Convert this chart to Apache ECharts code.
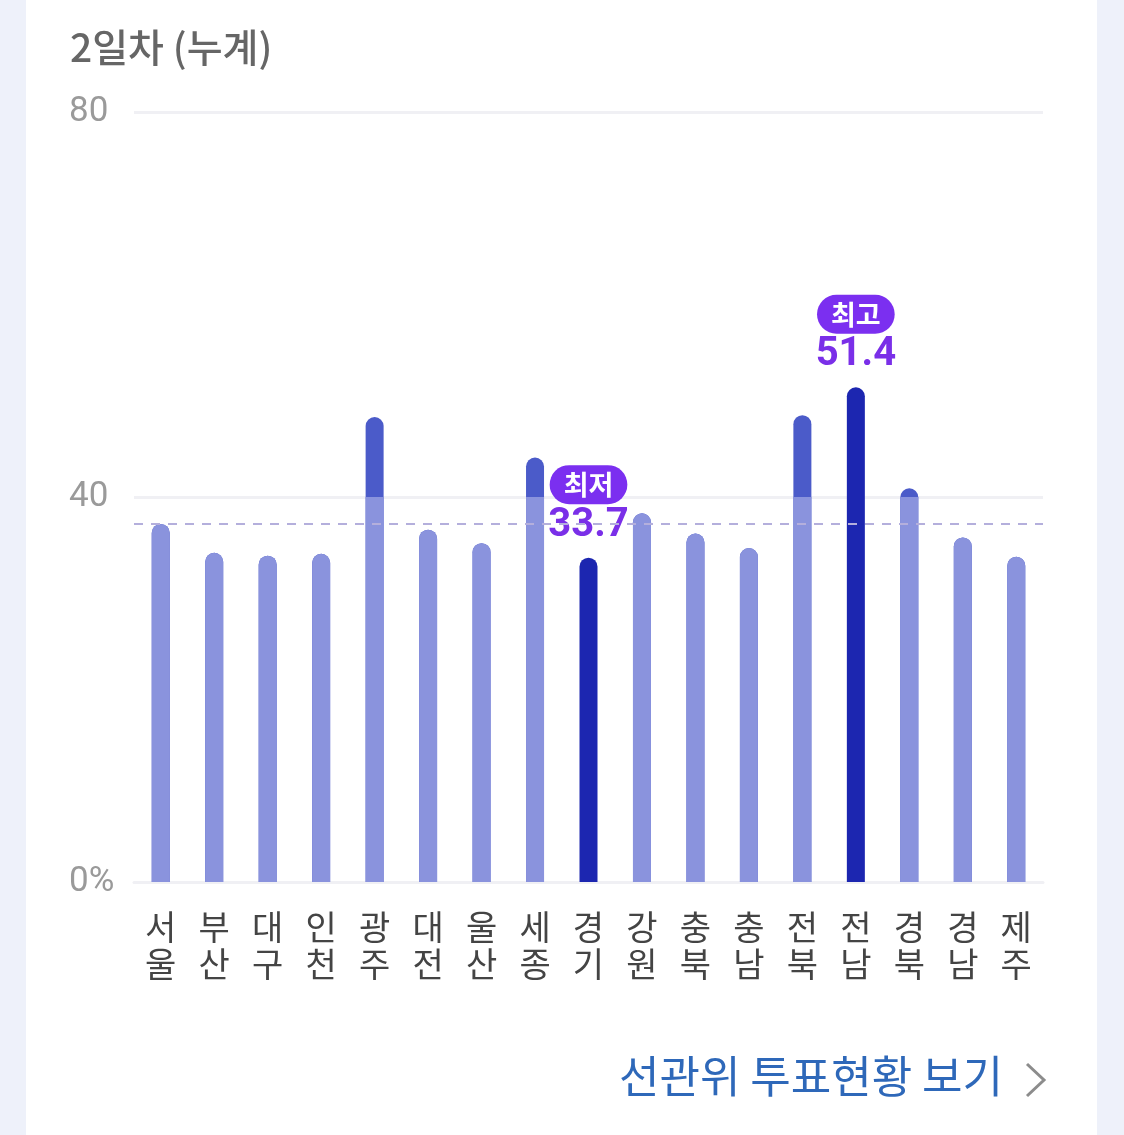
<!DOCTYPE html>
<html>
<head>
<meta charset="utf-8">
<style>
  html, body { margin: 0; padding: 0; background: #eef1fa; }
  #chart { width: 1124px; height: 1135px; }
</style>
<script src="https://cdn.jsdelivr.net/npm/echarts@6/dist/echarts.min.js"></script>
</head>
<body>
<div id="chart"></div>
<script>
const titleText = '2일차 (누계)';
const regions = ['서울','부산','대구','인천','광주','대전','울산','세종','경기','강원','충북','충남','전북','전남','경북','경남','제주'];
const turnout = [37.2, 34.2, 33.9, 34.1, 48.3, 36.6, 35.2, 44.1, 33.7, 38.3, 36.2, 34.7, 48.5, 51.4, 40.9, 35.8, 33.8];
const highlightTags = ['', '', '', '', '', '', '', '', '최저', '', '', '', '', '최고', '', '', ''];
const averageLine = 37.2;
const splitValue = 40;
const yTicks = [0, 40, 80];
const linkText = '선관위 투표현황 보기';

const FONT = 'Roboto, "Noto Sans CJK KR", sans-serif';
const KFONT = '"Noto Sans CJK KR", sans-serif';

const fullSeries = turnout.map((v, i) => highlightTags[i] ? '-' : v);
const lowerSeries = turnout.map((v, i) => {
  if (highlightTags[i]) return '-';
  const r = v > splitValue ? 0 : 9;
  return { value: Math.min(v, splitValue), itemStyle: { borderRadius: [r, r, 0, 0] } };
});
const highSeries = turnout.map((v, i) => highlightTags[i] ? v : '-');

const chart = echarts.init(document.getElementById('chart'));
chart.setOption({
  animation: false,
  title: {
    text: titleText,
    left: 65, top: 23,
    textStyle: { fontFamily: KFONT, fontSize: 39, fontWeight: 500, color: '#666666' }
  },
  graphic: [
    { type: 'rect', z: -10, silent: true, shape: { x: 26, y: -20, width: 1071, height: 1200 }, style: { fill: '#ffffff' } },
    { type: 'text', left: 619, top: 1054, style: { text: linkText, font: '400 44px ' + KFONT, fill: '#2e68b9' } },
    { type: 'polyline', shape: { points: [[1027, 1064], [1044, 1080], [1027, 1096]] }, style: { stroke: '#8c8c8c', lineWidth: 3, fill: null } }
  ],
  grid: { left: 134, right: 81, top: 112, bottom: 253, containLabel: false },
  xAxis: {
    type: 'category',
    data: regions,
    axisLine: { show: true, lineStyle: { color: '#f0f0f4', width: 3 } },
    axisTick: { show: false },
    axisLabel: {
      interval: 0, margin: 27,
      fontFamily: KFONT, fontSize: 34, lineHeight: 37, color: '#444444',
      formatter: v => v.split('').join('\n')
    }
  },
  yAxis: {
    type: 'value', min: 0, max: 80, interval: 40,
    axisLine: { show: false }, axisTick: { show: false },
    splitLine: { lineStyle: { color: '#f0f0f4', width: 3 } },
    axisLabel: {
      align: 'left', margin: 65,
      fontFamily: FONT, fontSize: 35, color: '#9a9a9a',
      formatter: v => (v === yTicks[0] ? v + '%' : String(v))
    }
  },
  series: [
    {
      type: 'line', data: [], z: 1, silent: true,
      markLine: {
        symbol: ['none', 'none'], silent: true, label: { show: false },
        lineStyle: { color: '#b4afdc', type: [9, 8], width: 2 },
        data: [{ yAxis: averageLine }]
      }
    },
    {
      type: 'bar', z: 2, barWidth: 18, barGap: '-100%',
      data: fullSeries,
      itemStyle: { color: '#4b5bc9', borderRadius: [9, 9, 0, 0] }
    },
    {
      type: 'bar', z: 3, barWidth: 18, barGap: '-100%',
      data: lowerSeries,
      itemStyle: { color: '#8a93dd' }
    },
    {
      type: 'bar', z: 4, barWidth: 18, barGap: '-100%',
      data: highSeries,
      itemStyle: { color: '#1c26b0', borderRadius: [9, 9, 0, 0] },
      label: {
        show: true, position: 'top', distance: 6,
        formatter: p => '{b|' + highlightTags[p.dataIndex] + '}\n{v|' + p.value + '}',
        rich: {
          b: { fontFamily: KFONT, fontSize: 27, fontWeight: 'bold', color: '#ffffff', backgroundColor: '#7b2ff0', borderRadius: 20, padding: [6, 14, 6, 14], lineHeight: 30, align: 'center' },
          v: { fontFamily: FONT, fontSize: 40, fontWeight: 'bold', color: '#7a2fe8', lineHeight: 52, align: 'center' }
        }
      }
    }
  ]
});
</script>
</body>
</html>
